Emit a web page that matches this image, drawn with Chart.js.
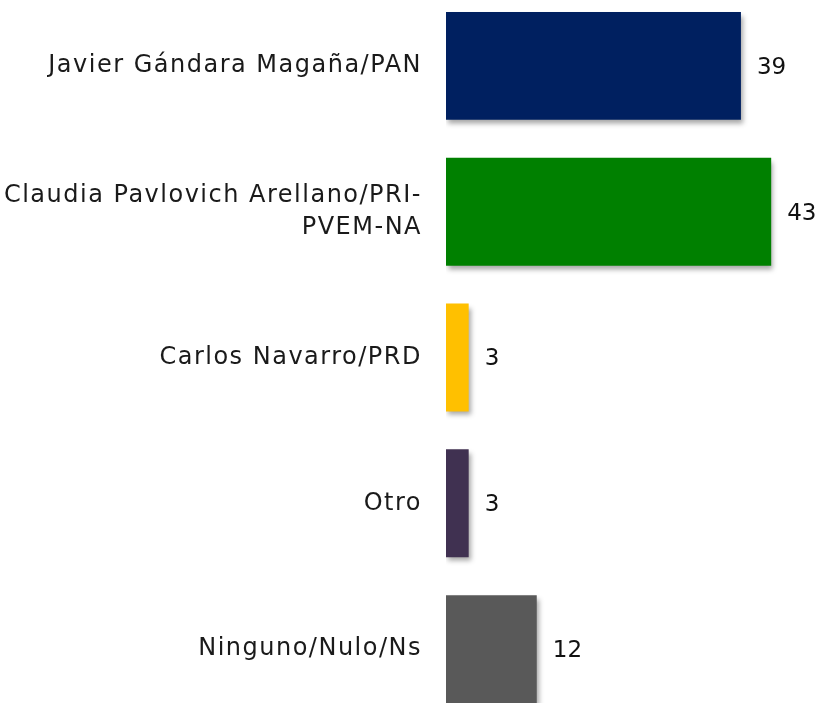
<!DOCTYPE html>
<html>
<head>
<meta charset="utf-8">
<script src="https://cdn.jsdelivr.net/npm/chart.js@4"></script>
<style>
html, body { margin: 0; padding: 0; background: #fff; overflow: hidden; }
#chart { position: absolute; left: 0; top: -7px; }
</style>
</head>
<body>
<canvas id="chart" width="819" height="729"></canvas>
<script>
var labels = [
    'Javier Gándara Magaña/PAN',
    ['Claudia Pavlovich Arellano/PRI-', 'PVEM-NA'],
    'Carlos Navarro/PRD',
    'Otro',
    'Ninguno/Nulo/Ns'
];
var values = [39, 43, 3, 3, 12];
var colors = ['#002060', '#008000', '#FFC000', '#403151', '#595959'];

var fontFamily = "'DejaVu Sans', sans-serif";

// wider letters, closer to the original geometric face
var spacing = {
    id: 'spacing',
    beforeDraw: function(chart) { chart.ctx.letterSpacing = '1.5px'; }
};

// soft shadow under the bars
var barShadow = {
    id: 'barShadow',
    beforeDatasetDraw: function(chart) {
        var ctx = chart.ctx;
        ctx.save();
        ctx.shadowColor = 'rgba(0,0,0,0.35)';
        ctx.shadowBlur = 5;
        ctx.shadowOffsetX = 2;
        ctx.shadowOffsetY = 4;
    },
    afterDatasetDraw: function(chart) {
        chart.ctx.restore();
    }
};

// value labels right of each bar
var valueLabels = {
    id: 'valueLabels',
    afterDatasetsDraw: function(chart) {
        var ctx = chart.ctx;
        var meta = chart.getDatasetMeta(0);
        ctx.save();
        ctx.letterSpacing = '0px';
        ctx.font = '23px ' + fontFamily;
        ctx.fillStyle = '#111';
        ctx.textAlign = 'left';
        ctx.textBaseline = 'middle';
        meta.data.forEach(function(bar, i) {
            ctx.fillText(String(values[i]), bar.x + 16, bar.y + 2);
        });
        ctx.restore();
    }
};

new Chart(document.getElementById('chart'), {
    type: 'bar',
    data: {
        labels: labels,
        datasets: [{
            data: values,
            backgroundColor: colors,
            borderWidth: 0,
            barPercentage: 0.74,
            categoryPercentage: 1.0
        }]
    },
    options: {
        indexAxis: 'y',
        responsive: false,
        animation: false,
        layout: { padding: { left: 0, right: 10, top: 0, bottom: 0 } },
        plugins: {
            legend: { display: false },
            tooltip: { enabled: false }
        },
        scales: {
            x: {
                display: false,
                min: 0,
                max: 48
            },
            y: {
                afterFit: function(scale) {
                    scale.width = 446;
                    scale.paddingTop = 0;
                    scale.paddingBottom = 0;
                },
                grid: { display: false, drawTicks: false },
                border: { display: false },
                ticks: {
                    color: '#1a1a1a',
                    padding: 24,
                    font: { family: fontFamily, size: 24, lineHeight: 1.3 }
                }
            }
        }
    },
    plugins: [spacing, barShadow, valueLabels]
});
</script>
</body>
</html>
